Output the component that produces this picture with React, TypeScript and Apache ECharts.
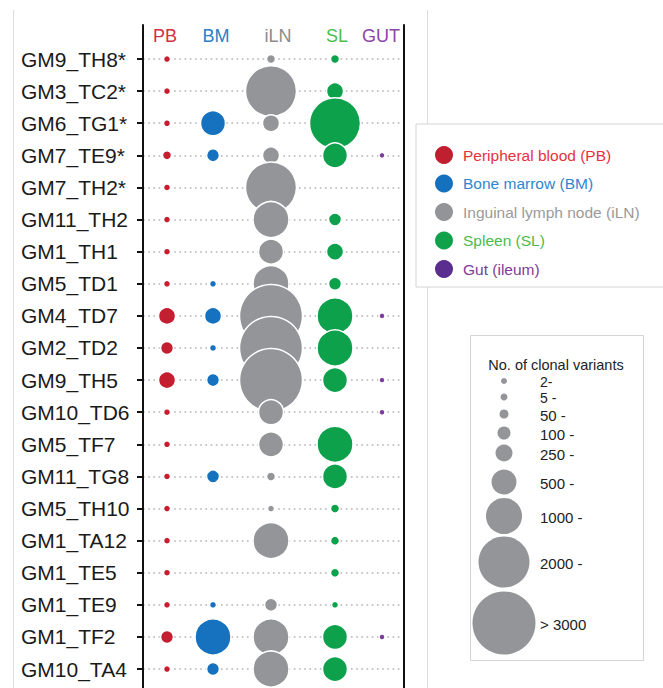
import React, { useEffect, useRef } from "react";
import * as echarts from "echarts";

// ---- data ----
const samples = [
  "GM9_TH8*", "GM3_TC2*", "GM6_TG1*", "GM7_TE9*", "GM7_TH2*",
  "GM11_TH2", "GM1_TH1", "GM5_TD1", "GM4_TD7", "GM2_TD2",
  "GM9_TH5", "GM10_TD6", "GM5_TF7", "GM11_TG8", "GM5_TH10",
  "GM1_TA12", "GM1_TE5", "GM1_TE9", "GM1_TF2", "GM10_TA4",
];
const tissueShort = ["PB", "BM", "iLN", "SL", "GUT"];
const tissueNames = [
  "Peripheral blood (PB)",
  "Bone marrow (BM)",
  "Inguinal lymph node (iLN)",
  "Spleen (SL)",
  "Gut (ileum)",
];
// number of clonal variants (lower bound of class), null = none
const pbValues = [5, 5, 5, 50, 5, 5, 5, 5, 250, 100, 250, 5, 5, 5, 5, 5, 5, 5, 100, 5];
const bmValues = [null, null, 500, 100, null, null, null, 5, 250, 5, 100, null, null, 100, null, null, null, 5, 1000, 100];
const ilnValues = [50, 2000, 250, 250, 2000, 1000, 500, 1000, 3000, 3000, 3000, 500, 500, 50, 5, 1000, null, 100, 1000, 1000];
const slValues = [50, 250, 2000, 500, null, 100, 250, 100, 1000, 1000, 500, null, 1000, 500, 50, 50, 50, 5, 500, 500];
const gutValues = [null, null, null, 2, null, null, null, null, 2, null, 2, 2, null, null, null, null, null, null, 2, null];
const sizeClasses = [2, 5, 50, 100, 250, 500, 1000, 2000, 3000];
const sizeClassLabels = ["2-", "5 -", "50 -", "100 -", "250 -", "500 -", "1000 -", "2000 -", "> 3000"];

// ---- styles / layout ----
const SIZE_PX: Record<number, number> = { 2: 6, 5: 7, 50: 9, 100: 13, 250: 17, 500: 25, 1000: 36, 2000: 51, 3000: 63 };
const BUBBLE_COLORS = ["#c41f30", "#1672be", "#939598", "#0da14b", "#7c3d9e"];
const HEADER_COLORS = ["#d3303f", "#2a80c8", "#8c8c8c", "#4cbd4f", "#8a45a8"];
const LEGEND_TEXT_COLORS = ["#e8303a", "#2f86cc", "#9a9a9a", "#4cbb4c", "#7d3c98"];
const LEGEND_ICON_COLORS = ["#c01f2f", "#1571bd", "#929497", "#0fa24b", "#5b2d8e"];
const COL_X = [24, 70, 128, 192, 239];
const HEADER_X = [22, 73, 135, 194, 238];
const SIZE_LEGEND_Y = [381, 397, 414, 433, 453, 482, 516, 562, 623];
const FONT = "'Liberation Sans', Arial, Helvetica, sans-serif";

export default function App() {
  const ref = useRef<HTMLDivElement>(null);
  useEffect(() => {
    if (!ref.current) return;
    const chart = echarts.init(ref.current, undefined, { renderer: "svg" });
    const allValues = [pbValues, bmValues, ilnValues, slValues, gutValues];
    const series = allValues.map((vals, t) => ({
      type: "scatter",
      name: tissueNames[t],
      xAxisIndex: 0,
      yAxisIndex: 0,
      data: vals
        .map((v, i) => (v == null ? null : [COL_X[t], i, v]))
        .filter((d) => d !== null),
      symbol: "circle",
      symbolSize: (val: number[]) => SIZE_PX[val[2]] || 6,
      itemStyle: { color: BUBBLE_COLORS[t], borderColor: "#ffffff", borderWidth: 1.5, opacity: 1 },
      emphasis: { disabled: true },
      z: 3,
    }));

    const rich: Record<string, any> = {};
    tissueShort.forEach((s, i) => {
      rich["h" + i] = { color: HEADER_COLORS[i], fontSize: 18, fontFamily: FONT };
    });

    const graphics: any[] = [
      { type: "line", shape: { x1: 13.5, y1: 10, x2: 13.5, y2: 688 }, style: { stroke: "#dddddd", lineWidth: 1 }, z: 0 },
      { type: "line", shape: { x1: 427.5, y1: 10, x2: 427.5, y2: 688 }, style: { stroke: "#dddddd", lineWidth: 1 }, z: 0 },
      { type: "rect", shape: { x: 470.5, y: 335.5, width: 173, height: 325 }, style: { fill: "#ffffff", stroke: "#d4d4d4", lineWidth: 1 }, z: 1 },
      {
        type: "text",
        x: 556,
        y: 365,
        style: { text: "No. of clonal variants", fill: "#222222", font: `14.5px ${FONT}`, align: "center", verticalAlign: "middle" },
        z: 2,
      },
    ];
    sizeClasses.forEach((c, i) => {
      graphics.push({
        type: "circle",
        shape: { cx: 504, cy: SIZE_LEGEND_Y[i], r: SIZE_PX[c] / 2 },
        style: { fill: "#939598" },
        z: 2,
      });
      graphics.push({
        type: "text",
        x: 540,
        y: SIZE_LEGEND_Y[i] + 1,
        style: { text: sizeClassLabels[i], fill: "#222222", font: `${i < 2 ? 14 : 15}px ${FONT}`, align: "left", verticalAlign: "middle" },
        z: 2,
      });
    });

    chart.setOption({
      animation: false,
      backgroundColor: "#ffffff",
      textStyle: { fontFamily: FONT },
      grid: { left: 143, right: 259, top: 25, bottom: 0, containLabel: false, outerBoundsMode: "none" },
      xAxis: {
        type: "value",
        min: 0,
        max: 261,
        position: "top",
        axisLine: { show: false },
        axisTick: { show: false },
        splitLine: { show: false },
        axisLabel: {
          show: true,
          inside: true,
          customValues: HEADER_X,
          margin: 11,
          verticalAlign: "middle",
          formatter: (v: number) => {
            const i = HEADER_X.indexOf(v);
            return i >= 0 ? `{h${i}|${tissueShort[i]}}` : "";
          },
          rich,
        },
      },
      yAxis: [
        {
          type: "value",
          inverse: true,
          min: -1.06,
          max: 19.59,
          axisLine: { show: true, lineStyle: { color: "#111111", width: 2 } },
          axisTick: {
            show: true,
            customValues: samples.map((_, i) => i),
            length: 6,
            lineStyle: { color: "#111111", width: 2 },
          },
          axisLabel: {
            show: true,
            customValues: samples.map((_, i) => i),
            formatter: (v: number) => samples[Math.round(v)] ?? "",
            fontSize: 21,
            color: "#1a1a1a",
            margin: 122,
            align: "left",
            fontFamily: FONT,
          },
          splitLine: {
            show: true,
            lineStyle: { color: "#b3b3b3", width: 1.6, type: [1.6, 3.6] },
          },
        },
        {
          type: "value",
          inverse: true,
          min: -1.06,
          max: 19.59,
          position: "right",
          axisLine: { show: true, lineStyle: { color: "#111111", width: 2 } },
          axisTick: { show: false },
          axisLabel: { show: false },
          splitLine: { show: false },
        },
      ],
      legend: {
        orient: "vertical",
        left: 416,
        top: 124,
        icon: "circle",
        itemWidth: 18,
        itemHeight: 18,
        itemGap: 10.5,
        padding: [22, 60, 9, 19],
        borderColor: "#d4d4d4",
        borderWidth: 1,
        backgroundColor: "#ffffff",
        selectedMode: false,
        textStyle: { fontSize: 15.5, fontFamily: FONT, padding: [0, 0, 0, 5] },
        data: tissueNames.map((n, i) => ({
          name: n,
          itemStyle: { color: LEGEND_ICON_COLORS[i], borderWidth: 0 },
          textStyle: { color: LEGEND_TEXT_COLORS[i] },
        })),
        z: 5,
      },
      graphic: graphics,
      series,
    });
    return () => chart.dispose();
  }, []);
  return (
    <div
      ref={ref}
      style={{ position: "absolute", left: 0, top: 0, width: 663, height: 688, background: "#fff" }}
    />
  );
}
